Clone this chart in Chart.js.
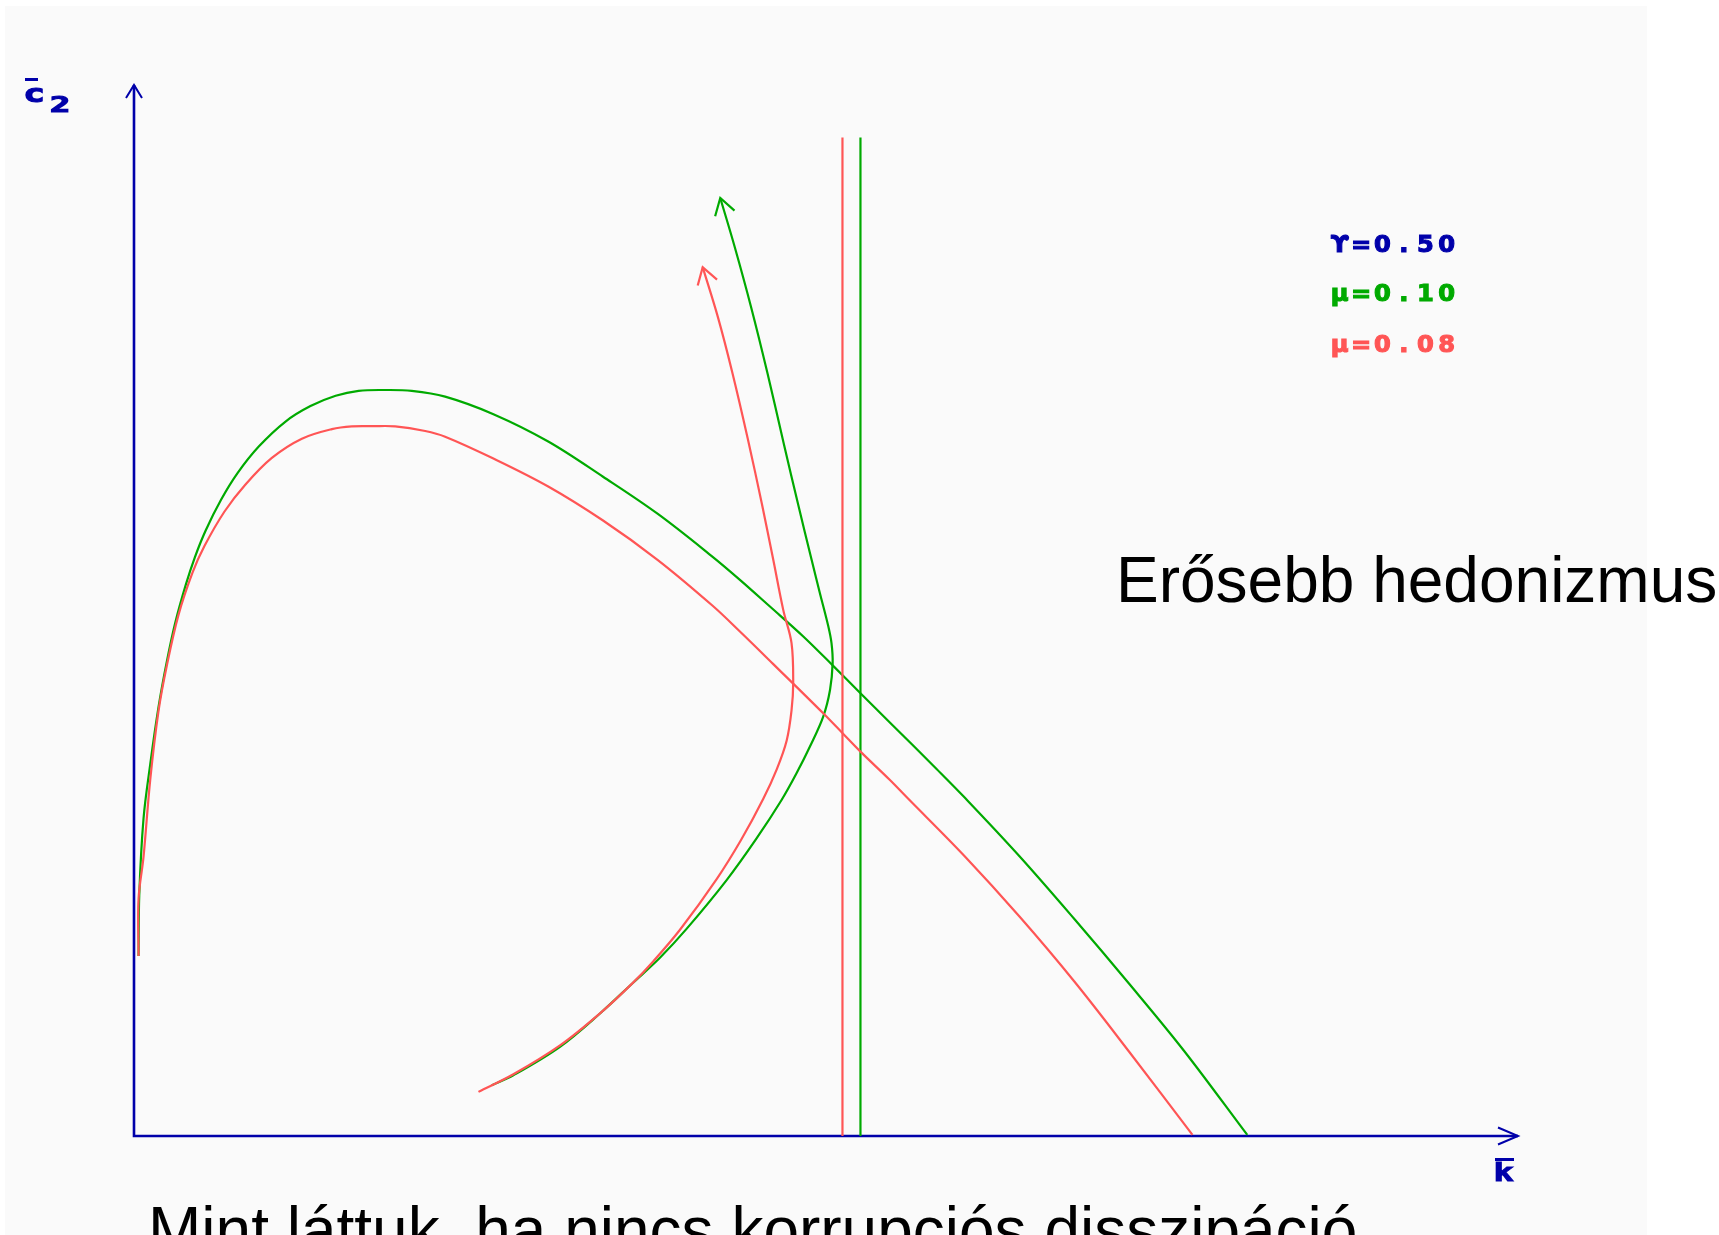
<!DOCTYPE html>
<html>
<head>
<meta charset="utf-8">
<script src="https://cdn.jsdelivr.net/npm/chart.js@4.4.1/dist/chart.umd.min.js"></script>
<style>
  html, body { margin: 0; padding: 0; background: #fff; overflow: hidden; }
</style>
</head>
<body>
<canvas id="phase" width="1719" height="1235"></canvas>
<script>
// phase diagram: k on x, c2 on y (both 0..10)
const greenLocus = [
  [0.033, 1.712], [0.038, 2.292], [0.069, 3.023], [0.117, 3.534], [0.177, 4.080],
  [0.238, 4.520], [0.298, 4.883], [0.375, 5.248], [0.439, 5.504], [0.517, 5.759],
  [0.628, 6.051], [0.748, 6.307], [0.903, 6.562], [1.095, 6.798], [1.275, 6.945],
  [1.457, 7.043], [1.623, 7.090], [1.813, 7.098], [2.007, 7.090], [2.248, 7.035],
  [2.597, 6.868], [2.993, 6.608], [3.389, 6.273], [3.785, 5.919], [4.181, 5.511],
  [4.378, 5.292], [4.595, 5.038], [4.836, 4.753], [5.052, 4.473], [5.249, 4.212],
  [5.485, 3.904], [5.799, 3.492], [6.002, 3.220], [6.398, 2.662], [6.793, 2.067],
  [7.189, 1.451], [7.585, 0.814], [8.044, 0.010]
];
const redLocus = [
  [0.033, 1.712], [0.033, 2.257], [0.069, 2.658], [0.117, 3.387], [0.177, 4.044],
  [0.238, 4.482], [0.321, 4.956], [0.422, 5.358], [0.509, 5.613], [0.654, 5.942],
  [0.804, 6.197], [0.996, 6.452], [1.213, 6.635], [1.430, 6.726], [1.574, 6.752],
  [1.726, 6.754], [1.887, 6.752], [2.104, 6.708], [2.248, 6.654], [2.597, 6.446],
  [2.993, 6.180], [3.389, 5.856], [3.785, 5.480], [4.181, 5.045], [4.378, 4.800],
  [4.619, 4.490], [4.980, 4.022], [5.120, 3.832], [5.249, 3.657], [5.462, 3.387],
  [5.582, 3.225], [6.002, 2.662], [6.398, 2.088], [6.793, 1.472], [7.189, 0.804],
  [7.648, 0.010]
];
const greenPath = [
  [2.585, 0.483], [2.741, 0.578], [3.078, 0.849], [3.367, 1.166], [3.608, 1.461],
  [3.800, 1.696], [3.994, 1.973], [4.282, 2.435], [4.497, 2.829], [4.679, 3.197],
  [4.787, 3.451], [4.884, 3.706], [4.980, 3.991], [5.029, 4.244], [5.048, 4.499],
  [5.040, 4.687], [5.017, 4.848], [4.956, 5.165], [4.896, 5.482], [4.798, 6.013],
  [4.695, 6.587], [4.576, 7.265], [4.458, 7.891], [4.339, 8.466], [4.236, 8.925]
];
const redPath = [
  [2.489, 0.420], [2.741, 0.587], [3.078, 0.862], [3.367, 1.167], [3.608, 1.462],
  [3.753, 1.663], [3.945, 1.962], [4.210, 2.444], [4.386, 2.816], [4.547, 3.209],
  [4.644, 3.489], [4.716, 3.764], [4.751, 4.050], [4.763, 4.308], [4.751, 4.689],
  [4.691, 5.006], [4.619, 5.482], [4.537, 6.013], [4.434, 6.639], [4.323, 7.265],
  [4.220, 7.787], [4.109, 8.267]
];
const kSteady = [5.119, 5.249];   // red, green
const kLineTop = 9.5;
const legendLines = ['ϒ=0.50', 'μ=0.10', 'μ=0.08'];

const BLUE = '#0000aa', GREEN = '#00aa00', RED = '#ff5555';

const pts = arr => arr.map(p => ({ x: p[0], y: p[1] }));

// blocky wide characters, one per cell
function wideText(ctx, str, x, base, pitch, sx, font, color, weight) {
  ctx.save();
  ctx.font = font;
  ctx.fillStyle = color;
  ctx.strokeStyle = color;
  ctx.lineWidth = weight || 0;
  ctx.textAlign = 'center';
  ctx.textBaseline = 'alphabetic';
  [...str].forEach((ch, i) => {
    ctx.save();
    ctx.translate(x + pitch * i + pitch / 2, base);
    ctx.scale(sx, 1);
    ctx.fillText(ch, 0, 0);
    if (weight) ctx.strokeText(ch, 0, 0);
    ctx.restore();
  });
  ctx.restore();
}

function openHead(ctx, tx, ty, fx, fy, len, ang) {
  const a = Math.atan2(fy - ty, fx - tx);
  ctx.beginPath();
  ctx.moveTo(tx + len * Math.cos(a - ang), ty + len * Math.sin(a - ang));
  ctx.lineTo(tx, ty);
  ctx.lineTo(tx + len * Math.cos(a + ang), ty + len * Math.sin(a + ang));
  ctx.stroke();
}

const decor = {
  id: 'decor',
  beforeDraw(chart) {
    const ctx = chart.ctx;
    ctx.save();
    ctx.fillStyle = '#ffffff';
    ctx.fillRect(0, 0, chart.width, chart.height);
    ctx.fillStyle = '#fafafa';
    ctx.fillRect(5, 6, 1642, chart.height - 6);
    ctx.restore();
  },
  beforeDatasetsDraw(chart) {
    const ctx = chart.ctx, xs = chart.scales.x, ys = chart.scales.y;
    const x0 = xs.getPixelForValue(0), x1 = xs.getPixelForValue(10);
    const y0 = ys.getPixelForValue(0), y1 = ys.getPixelForValue(10);
    ctx.save();
    ctx.strokeStyle = BLUE;
    ctx.lineWidth = 2.6;
    ctx.beginPath();
    ctx.moveTo(x0, y1);
    ctx.lineTo(x0, y0);
    ctx.lineTo(x1, y0);
    ctx.stroke();
    ctx.lineWidth = 2;
    ctx.beginPath();
    ctx.moveTo(x0 - 8, y1 + 13); ctx.lineTo(x0, y1); ctx.lineTo(x0 + 8, y1 + 13);
    ctx.moveTo(x1 - 20, y0 - 8.5); ctx.lineTo(x1, y0); ctx.lineTo(x1 - 20, y0 + 8.5);
    ctx.stroke();
    ctx.restore();
  },
  afterDatasetsDraw(chart) {
    const ctx = chart.ctx;
    // arrowheads at the end of the trajectories
    chart.data.datasets.forEach((ds, i) => {
      if (!ds.arrow) return;
      const d = chart.getDatasetMeta(i).data;
      const a = d[d.length - 1], b = d[d.length - 2];
      ctx.save();
      ctx.strokeStyle = ds.borderColor;
      ctx.lineWidth = 2.2;
      openHead(ctx, a.x, a.y, b.x, b.y, 19, 0.56);
      ctx.restore();
    });

    const blocky = 'bold 23px "DejaVu Sans"';
    wideText(ctx, legendLines[0], 1329, 252, 21.4, 1.05, blocky, BLUE, 1.1);
    wideText(ctx, legendLines[1], 1329, 301, 21.4, 1.05, blocky, GREEN, 1.1);
    wideText(ctx, legendLines[2], 1329, 352, 21.4, 1.05, blocky, RED, 1.1);

    // axis names
    ctx.save();
    ctx.fillStyle = BLUE;
    ctx.fillRect(25, 78, 13, 3);
    ctx.fillRect(1495, 1158, 19, 3);
    ctx.restore();
    wideText(ctx, 'c', 24, 102, 20, 1.5, 'bold 24px "DejaVu Sans Mono"', BLUE, 1.2);
    wideText(ctx, '2', 50, 112, 20, 1.6, 'bold 21px "DejaVu Sans Mono"', BLUE, 1.2);
    wideText(ctx, 'k', 1494, 1181, 19, 1.4, 'bold 24px "DejaVu Sans Mono"', BLUE, 1);

    ctx.save();
    ctx.fillStyle = '#000';
    ctx.font = '64px "Liberation Sans", Arial, sans-serif';
    ctx.textBaseline = 'alphabetic';
    ctx.fillText('Erősebb hedonizmus', 1116, 602);
    ctx.fillText('Mint láttuk, ha nincs korrupciós disszipáció', 148, 1252);
    ctx.restore();
  }
};

const line = (data, color, extra) => Object.assign({
  data: pts(data),
  borderColor: color,
  borderWidth: 2.2,
  showLine: true,
  pointRadius: 0,
  tension: 0.35,
  fill: false,
  clip: false
}, extra || {});

new Chart(document.getElementById('phase'), {
  type: 'scatter',
  data: {
    datasets: [
      line([[kSteady[0], 0], [kSteady[0], kLineTop]], RED, { tension: 0 }),
      line(redLocus, RED),
      line(redPath, RED, { arrow: true }),
      line([[kSteady[1], 0], [kSteady[1], kLineTop]], GREEN, { tension: 0 }),
      line(greenLocus, GREEN),
      line(greenPath, GREEN, { arrow: true })
    ]
  },
  options: {
    responsive: false,
    animation: false,
    events: [],
    layout: { padding: { left: 134, right: 201, top: 85, bottom: 99 } },
    scales: {
      x: { type: 'linear', min: 0, max: 10, display: false },
      y: { type: 'linear', min: 0, max: 10, display: false }
    },
    plugins: { legend: { display: false }, tooltip: { enabled: false } }
  },
  plugins: [decor]
});
</script>
</body>
</html>
